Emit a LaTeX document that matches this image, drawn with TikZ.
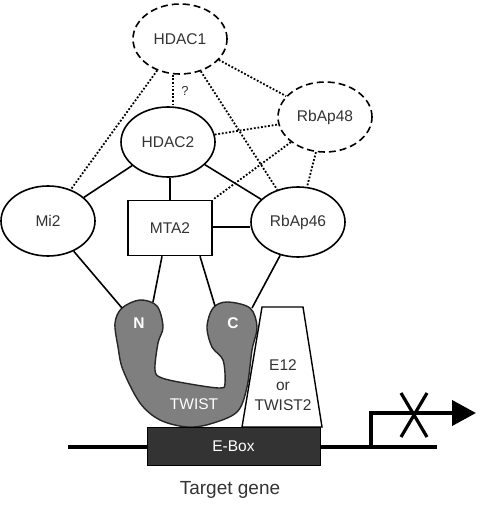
\documentclass[tikz,border=0pt]{standalone}
\usepackage{fontspec}
\setmainfont{Liberation Sans}
\usetikzlibrary{shapes.geometric,arrows.meta}
\definecolor{txt}{HTML}{333333}
\definecolor{blob}{HTML}{7F7F7F}
\definecolor{ebox}{HTML}{333333}
\begin{document}
\begin{tikzpicture}[x=1pt,y=-1pt,
  lblfont/.style={font=\fontsize{15.5}{18}\selectfont},
  prot/.style={ellipse,draw=black,line width=1.6pt,inner sep=0pt,minimum width=94pt,minimum height=70pt,lblfont,text=txt},
  dprot/.style={prot,dash pattern=on 7pt off 4pt},
  solidl/.style={line width=1.6pt},
  dotl/.style={line width=1.8pt,dash pattern=on 1.8pt off 1.8pt},
  lbl/.style={lblfont,text=txt,inner sep=0pt},
  wlbl/.style={lblfont,text=white,inner sep=0pt}]
\useasboundingbox (0,0) rectangle (480,505);
% proteins
\node[dprot] (hdac1) at (180,39) {HDAC1};
\node[prot] (hdac2) at (168,142) {HDAC2};
\node[dprot] (rbap48) at (325,117) {RbAp48};
\node[prot] (mi2) at (48,221) {Mi2};
\node[prot] (rbap46) at (298,222) {RbAp46};
\node[draw=black,line width=1.6pt,minimum width=84pt,minimum height=55pt,inner sep=0pt,lblfont,text=txt] (mta2) at (170,228) {MTA2};
% dotted interactions
\draw[dotl] (hdac1.south -| 173,0) -- (hdac2.north -| 173,0);
\node[lbl,font=\fontsize{13}{15}\selectfont] (q) at (185,91) {?};
\draw[dotl] (hdac1) -- (mi2);
\draw[dotl] (hdac1) -- (rbap48);
\draw[dotl] (hdac1) -- (rbap46);
\draw[dotl] (hdac2) -- (rbap48);
\draw[dotl] (rbap48) -- (rbap46);
\draw[dotl] (rbap48) -- (mta2.north east);
% solid interactions
\draw[solidl] (hdac2) -- (mi2);
\draw[solidl] (hdac2.south -| 170,0) -- (mta2.north -| 170,0);
\draw[solidl] (hdac2) -- (rbap46);
\draw[solidl] (mta2.east |- 0,227) -- (rbap46.west |- 0,227);
% TWIST blob
\draw[fill=blob,line width=1.4pt,draw=black!85]
  plot[smooth cycle,tension=0.55] coordinates {
  (115,323) (122,308) (140,300) (157,306) (163,327) (158,343) (155,370)
  (162,378) (190,384) (220,388) (225,383) (223,360) (212,347) (207,327)
  (213,308) (227,302) (250,308) (257,327) (252,350) (247,387) (237,412)
  (210,424) (187,427) (160,420) (140,403) (123,370) (118,347)};
\coordinate (nA) at (122,308);
\coordinate (nB) at (153,302);
\coordinate (cA) at (215,306);
\coordinate (cB) at (252,308);
\node[wlbl,font=\fontsize{15.5}{18}\selectfont\bfseries] (N) at (139,323) {N};
\node[wlbl,font=\fontsize{15.5}{18}\selectfont\bfseries] (C) at (233,323) {C};
\node[wlbl] (twist) at (194,404) {TWIST};
\draw[solidl] (mi2) -- (nA);
\draw[solidl] (mta2.south -| 162,0) -- (nB);
\draw[solidl] (mta2.south -| 200,0) -- (cA);
\draw[solidl] (rbap46) -- (cB);
% DNA
\coordinate (dl) at (68,447);
\coordinate (dr) at (437,447);
\draw[line width=4pt] (dl) -- (dr);
% E12 trapezoid
\coordinate (t1) at (262,307);
\coordinate (t2) at (303,307);
\coordinate (t3) at (322,427);
\coordinate (t4) at (242,427);
\draw[fill=white,line width=1.4pt] (t1) -- (t2) -- (t3) -- (t4) -- cycle;
\node[lbl,align=center] (e12) at (283,385) {E12\\[2pt]or\\[2pt]TWIST2};
% E-box
\node[fill=ebox,draw=black,minimum width=173pt,minimum height=38pt,inner sep=0pt,text=white,lblfont] (ebox) at (233.5,446) {E-Box};
% promoter arrow
\coordinate (p0) at (371,447);
\coordinate (p1) at (371,413);
\coordinate (p2) at (476,413);
\draw[line width=4pt,-{Triangle[length=24pt,width=25pt]}] (p0) -- (p1) -- (p2);
\coordinate (x1) at (401,393);
\coordinate (x2) at (427,437);
\coordinate (x3) at (427,393);
\coordinate (x4) at (401,437);
\draw[line width=3.2pt] (x1) -- (x2) (x3) -- (x4);
\node[font=\fontsize{19}{22}\selectfont,text=txt,inner sep=0pt] (tg) at (230,490) {Target gene};
\end{tikzpicture}
\end{document}
